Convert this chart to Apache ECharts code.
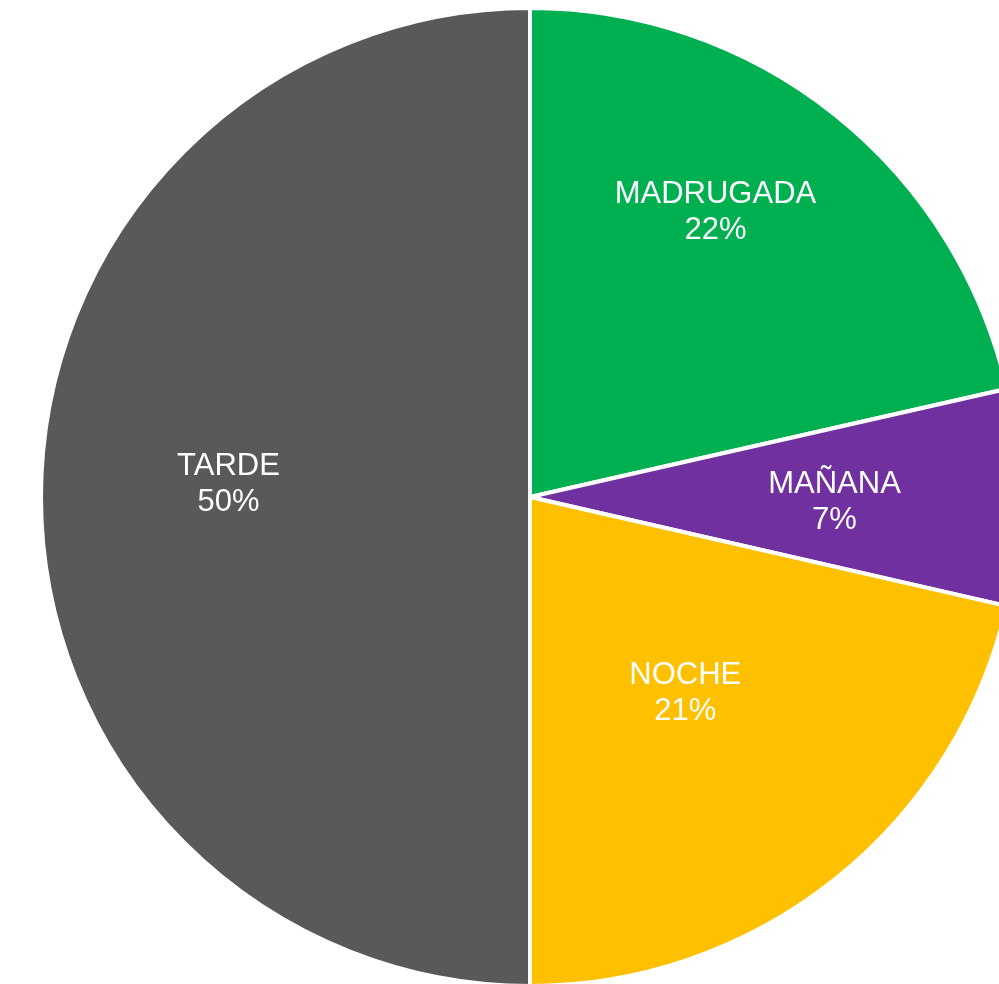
<!DOCTYPE html>
<html>
<head>
<meta charset="utf-8">
<script src="https://cdn.jsdelivr.net/npm/echarts@6/dist/echarts.min.js"></script>
<style>html,body{margin:0;padding:0;background:#fff;}#c{width:999px;height:984px;}</style>
</head>
<body>
<div id="c"></div>
<script>
const categories = ['MADRUGADA', 'MAÑANA', 'NOCHE', 'TARDE'];
const values = [21.45, 7.13, 21.42, 50.0];
const percentLabels = ['22%', '7%', '21%', '50%'];
const colors = ['#00B050', '#7030A0', '#FFC000', '#595959'];
const labelOffsets = [[31, -91], [57, 5], [1, 3], [-54, -13]];

const chart = echarts.init(document.getElementById('c'), null, {renderer: 'canvas'});
chart.setOption({
  animation: false,
  series: [{
    type: 'pie',
    center: [530, 497],
    radius: [0, 489],
    startAngle: 90,
    clockwise: true,
    avoidLabelOverlap: false,
    itemStyle: { borderColor: '#ffffff', borderWidth: 4 },
    label: {
      show: true,
      position: 'inside',
      color: '#ffffff',
      fontFamily: 'Liberation Sans, Arial, sans-serif',
      fontSize: 31,
      lineHeight: 36,
      align: 'center'
    },
    labelLine: { show: false },
    data: categories.map((name, i) => ({
      name: name,
      value: values[i],
      itemStyle: { color: colors[i] },
      label: {
        offset: labelOffsets[i],
        formatter: name + '\n' + percentLabels[i]
      }
    }))
  }]
});
</script>
</body>
</html>
